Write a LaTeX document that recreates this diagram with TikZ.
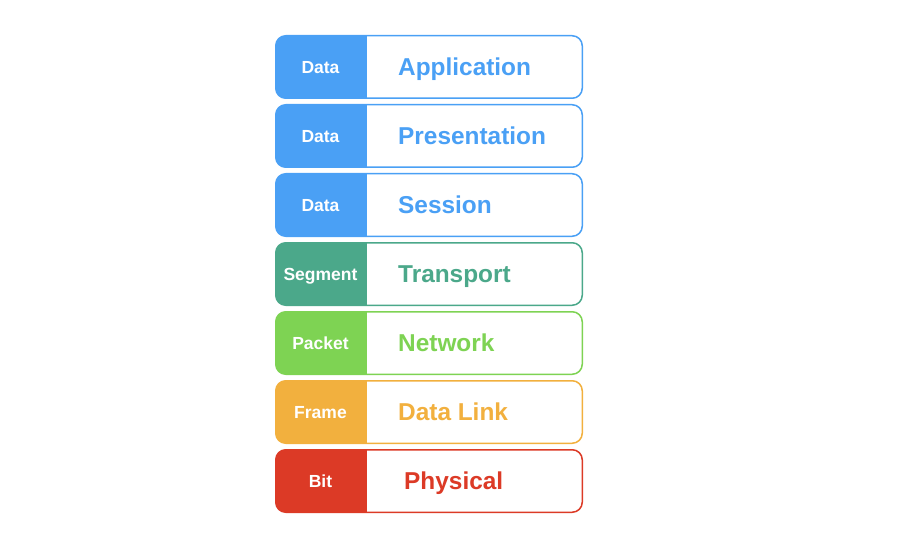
\documentclass[tikz,border=0pt]{standalone}
\usepackage{fontspec}
\setmainfont{Liberation Sans}
\usetikzlibrary{calc}
\definecolor{appblue}{HTML}{4AA0F5}
\definecolor{trteal}{HTML}{4BA88A}
\definecolor{netgreen}{HTML}{7ED353}
\definecolor{linkorange}{HTML}{F2B03E}
\definecolor{physred}{HTML}{DC3A26}
\tikzset{
  layer/.style={draw=#1, fill=white, line width=1.5pt, rounded corners=10pt,
    minimum width=306.5pt, minimum height=62.5pt, inner sep=0pt,
    path picture={\fill[#1, sharp corners] (path picture bounding box.north west)
      rectangle ([xshift=91pt]path picture bounding box.south west);}},
  unitname/.style={text=white, font=\fontsize{17.5}{20}\selectfont\bfseries,
    inner sep=0pt, text height=12.6pt, text depth=0pt},
  layername/.style={text=#1, anchor=west, font=\fontsize{24.4}{28}\selectfont\bfseries,
    inner sep=0pt, text height=17.5pt, text depth=0pt}
}

\begin{document}
\begin{tikzpicture}[x=1pt, y=1pt]
  \path[use as bounding box] (0,0) rectangle (900,550);
  \foreach \nm/\col/\unit/\lbl/\dx [count=\i from 0] in
    {app/appblue/Data/Application/0, pres/appblue/Data/Presentation/0,
     sess/appblue/Data/Session/0, trans/trteal/Segment/Transport/0,
     net/netgreen/Packet/Network/0, link/linkorange/Frame/Data Link/0,
     phys/physred/Bit/Physical/6} {
    \node[layer=\col] (\nm) at (429, 483-69*\i) {};
    \node[unitname] (\nm-unit) at ([xshift=45.5pt]\nm.west) {\unit};
    \node[layername=\col] (\nm-name) at ([xshift=123pt+\dx pt]\nm.west) {\lbl};
  }
\end{tikzpicture}
\end{document}
